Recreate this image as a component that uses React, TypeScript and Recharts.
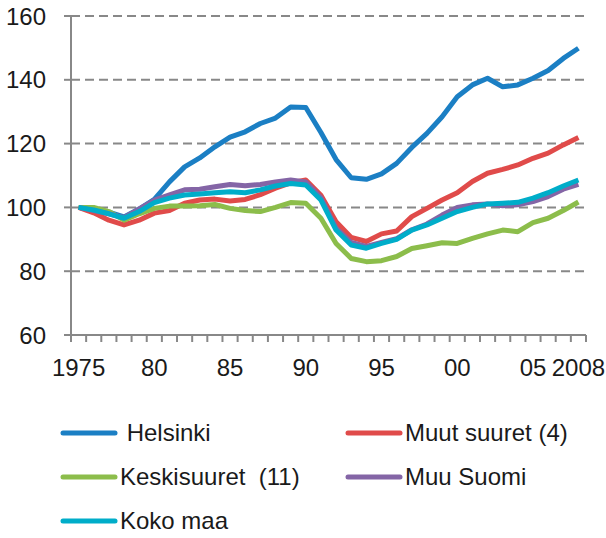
import React from 'react';
import { LineChart, Line, XAxis, YAxis, CartesianGrid } from 'recharts';

// vuodet 1975–2008
const years = [
  1975, 1976, 1977, 1978, 1979, 1980, 1981, 1982, 1983, 1984, 1985, 1986,
  1987, 1988, 1989, 1990, 1991, 1992, 1993, 1994, 1995, 1996, 1997, 1998,
  1999, 2000, 2001, 2002, 2003, 2004, 2005, 2006, 2007, 2008,
];

const helsinki = [
  100, 99, 98.5, 97, 99.5, 102.5, 108, 112.7, 115.5, 119, 122, 123.7,
  126.3, 128, 131.5, 131.3, 123.5, 115, 109.3, 108.8, 110.5, 113.8, 118.8, 123.2,
  128.4, 134.7, 138.4, 140.5, 137.8, 138.4, 140.5, 142.9, 146.7, 149.9,
];
const muutSuuret = [
  100, 98.3, 96, 94.5, 96, 98.2, 99, 101.3, 102.3, 102.6, 102, 102.5,
  104, 106, 107.7, 108.6, 103.8, 95.5, 90.6, 89.3, 91.7, 92.6, 97.1, 99.7,
  102.3, 104.6, 108.1, 110.7, 111.9, 113.3, 115.4, 117, 119.6, 121.9,
];
const keskisuuret = [
  100, 100, 98.7, 96, 98, 99.7, 100.4, 100.4, 100.5, 100.9, 99.7, 99,
  98.7, 100, 101.5, 101.3, 96.6, 88.7, 84, 83, 83.3, 84.6, 87.1, 88,
  88.9, 88.7, 90.3, 91.7, 92.9, 92.4, 95.2, 96.6, 99, 101.7,
];
const muuSuomi = [
  100, 99, 98, 96.8, 99.5, 102.3, 103.9, 105.5, 105.7, 106.5, 107.2, 106.8,
  107.2, 108, 108.6, 108, 103, 93.5, 89, 87.8, 89, 90.2, 93, 94.8,
  97.6, 100, 100.8, 101.1, 100.5, 100.8, 101.8, 103.4, 105.7, 107.2,
];
const kokoMaa = [
  100, 99.2, 98, 96.6, 98.7, 101.5, 102.9, 103.9, 104.2, 104.6, 104.9, 104.6,
  105.5, 106.7, 107.5, 107, 102.3, 92.9, 88.2, 87.2, 88.7, 90, 92.9, 94.5,
  96.6, 98.7, 100, 101.1, 101.3, 101.6, 102.9, 104.6, 106.7, 108.6,
];

const labelYears = [1975, 1980, 1985, 1990, 1995, 2000, 2005, 2008];
const yTicks = [60, 80, 100, 120, 140, 160];

const series = [
  { key: 'helsinki', name: ' Helsinki', values: helsinki, color: '#1b7fc4' },
  { key: 'muutSuuret', name: 'Muut suuret (4)', values: muutSuuret, color: '#e04b4a' },
  { key: 'keskisuuret', name: 'Keskisuuret  (11)', values: keskisuuret, color: '#8cbd4b' },
  { key: 'muuSuomi', name: 'Muu Suomi', values: muuSuomi, color: '#8465a6' },
  { key: 'kokoMaa', name: 'Koko maa', values: kokoMaa, color: '#00adc9' },
];

const data = years.map((year, i) => {
  const row: Record<string, number> = { year };
  series.forEach((s) => (row[s.key] = s.values[i]));
  return row;
});

// rajat vuosien välissä pientä väkäsmerkkiä varten
const boundaries = [...years.map((y) => y - 0.5), years[years.length - 1] + 0.5];
const xTicks = [...boundaries, ...labelYears].sort((a, b) => a - b);

const FONT = '"Liberation Sans", Arial, sans-serif';

const XTick = (props: any) => {
  const { x, y, payload } = props;
  const v = payload.value;
  if (v % 1 !== 0) {
    return <line x1={x} x2={x} y1={y} y2={y + 7} stroke="#888" strokeWidth={2} />;
  }
  const label = v === 1975 || v === 2008 ? String(v) : String(v).slice(2);
  return (
    <text x={x} y={y + 41} textAnchor="middle" fill="#1a1a1a" fontSize={24} fontFamily={FONT}>
      {label}
    </text>
  );
};

export default function App() {
  return (
    <div style={{ position: 'absolute', left: 0, top: 0, width: 606, height: 538, background: '#fff' }}>
      <LineChart
        width={606}
        height={538}
        data={data}
        margin={{ top: 16, right: 20, left: 0, bottom: 163 }}
      >
        <CartesianGrid
          vertical={false}
          stroke="#888"
          strokeWidth={2}
          strokeDasharray="9 5"
        />
        <XAxis
          dataKey="year"
          type="number"
          domain={[1974.5, 2008.5]}
          ticks={xTicks}
          interval={0}
          tickLine={false}
          tickSize={0}
          tickMargin={0}
          height={40}
          axisLine={{ stroke: '#888', strokeWidth: 2 }}
          tick={<XTick />}
        />
        <YAxis
          domain={[60, 160]}
          ticks={yTicks}
          width={71}
          interval={0}
          tickSize={7}
          tickMargin={18}
          axisLine={{ stroke: '#888', strokeWidth: 2 }}
          tickLine={{ stroke: '#888', strokeWidth: 2 }}
          tick={{ fill: '#1a1a1a', fontSize: 24, fontFamily: FONT }}
        />
        {series.map((s) => (
          <Line
            key={s.key}
            dataKey={s.key}
            name={s.name}
            stroke={s.color}
            strokeWidth={5}
            dot={false}
            activeDot={false}
            strokeLinejoin="round"
            isAnimationActive={false}
          />
        ))}
      </LineChart>
      <div style={{ position: 'absolute', left: 0, top: 0, fontFamily: FONT, fontSize: 24, color: '#1a1a1a' }}>
        {series.map((s, i) => {
          const col = i % 2;
          const row = Math.floor(i / 2);
          return (
            <div
              key={s.key}
              style={{
                position: 'absolute',
                left: col === 0 ? 60 : 345,
                top: 433 + row * 44 - 15,
                height: 30,
                display: 'flex',
                alignItems: 'center',
                whiteSpace: 'pre',
              }}
            >
              <svg width={58} height={10} style={{ marginRight: 2 }}>
                <line x1={3} x2={55} y1={5} y2={5} stroke={s.color} strokeWidth={5} strokeLinecap="round" />
              </svg>
              <span>{s.name}</span>
            </div>
          );
        })}
      </div>
    </div>
  );
}
